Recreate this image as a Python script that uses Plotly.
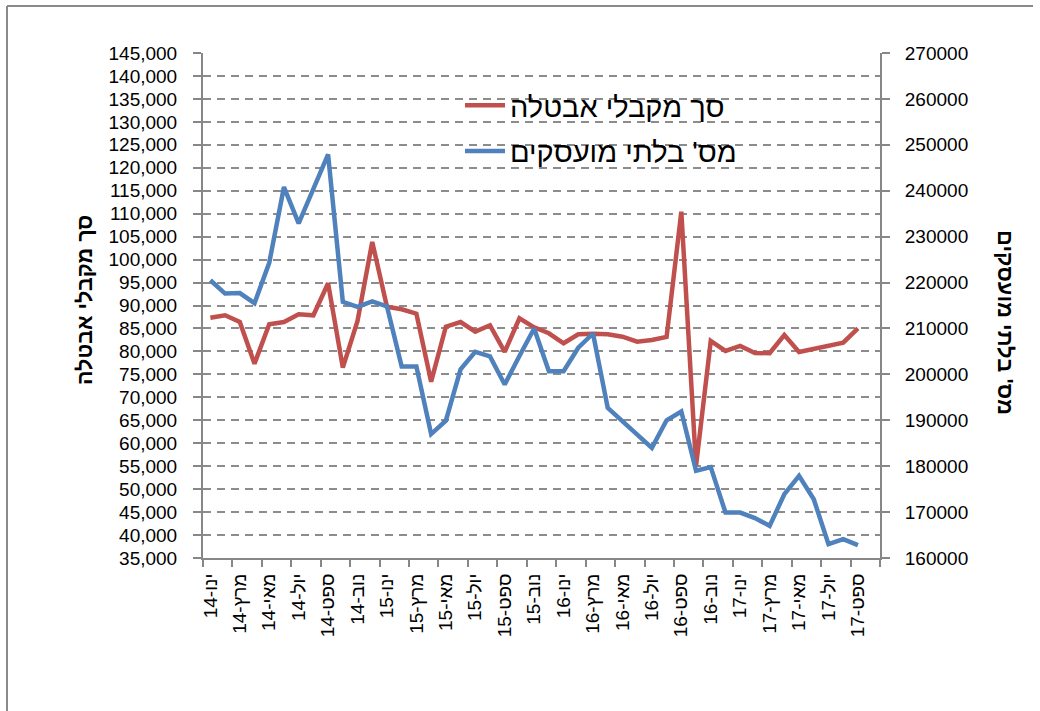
import plotly.graph_objects as go

# ---------------- data ----------------
month_names = ['ינו', 'פבר', 'מרץ', 'אפר', 'מאי', 'יונ', 'יול', 'אוג', 'ספט', 'אוק', 'נוב', 'דצמ']
years = ['14', '15', '16', '17']
n_months = 45  # Jan-2014 .. Sep-2017

month_labels = []
for y in years:
    for m in month_names:
        month_labels.append(f"{m}-{y}")
month_labels = month_labels[:n_months]

# total unemployment-benefit recipients (left axis)
benefit_recipients = [87350, 87870, 86410, 77330, 85910, 86400, 88090, 87870, 94840, 76460,
                      86630, 103840, 89740, 89180, 88220, 73410, 85390, 86400, 84300, 85690,
                      79880, 87220, 85250, 83950, 81770, 83730, 83860, 83730, 83210, 82120,
                      82490, 83140, 110430, 55050, 82270, 80100, 81180, 79660, 79600, 83580,
                      79880, 80600, 81400, 81900, 85040]

# number of unemployed (right axis)
unemployed = [220500, 217600, 217700, 215500, 224300, 240800, 232900, 240500, 247900, 215800,
              214700, 215900, 214800, 201700, 201700, 187000, 189900, 201100, 204900, 203900,
              197800, 204000, 210000, 200700, 200700, 205800, 208900, 192700, 189700, 186900,
              184000, 190000, 191900, 179000, 179800, 169900, 169900, 168700, 167000, 173900,
              177900, 172800, 163000, 164100, 162800]

series_names = ['סך מקבלי אבטלה', "מס' בלתי מועסקים"]
left_title = 'סך מקבלי אבטלה'
right_title = "מס' בלתי מועסקים"

x_idx = list(range(len(month_labels)))

FONT = "Liberation Sans, Arial, sans-serif"
GRAY = "#878787"

fig = go.Figure()
fig.add_trace(go.Scatter(x=x_idx, y=benefit_recipients, name=series_names[0], mode="lines",
                         line=dict(color="#C0504D", width=4.5), legendgroup="a", yaxis="y"))
fig.add_trace(go.Scatter(x=x_idx, y=unemployed, name=series_names[1], mode="lines",
                         line=dict(color="#4F81BD", width=4.5), legendgroup="b", yaxis="y2"))

L, R, T, B = 203, 160, 53, 153
W, H = 1040, 711
pw, ph = W - L - R, H - T - B


def px(xp):
    return (xp - L) / pw


def py(yp):
    return (H - B - yp) / ph


fig.update_layout(
    width=W, height=H,
    margin=dict(l=L, r=R, t=T, b=B, pad=0),
    paper_bgcolor="white", plot_bgcolor="white",
    font=dict(family=FONT, size=19, color="black"),
    showlegend=True,
    legend=dict(x=px(460), y=py(80), xanchor="left", yanchor="top",
                bgcolor="rgba(0,0,0,0)", font=dict(size=29, family=FONT),
                tracegroupgap=5, traceorder="grouped", itemwidth=40),
    xaxis=dict(
        range=[-0.5, 45.5], showgrid=False, zeroline=False,
        tickmode="array", tickvals=x_idx[::2], ticktext=month_labels[::2],
        tickangle=-90, ticks="outside", ticklen=6, tickcolor="rgba(0,0,0,0)",
        showline=True, linecolor=GRAY, linewidth=2,
        minor=dict(tickmode="array", tickvals=[-0.5 + 2 * k for k in range(24)],
                   ticks="outside", ticklen=7, tickcolor=GRAY, tickwidth=2, showgrid=False),
        tickfont=dict(size=19),
    ),
    yaxis=dict(
        range=[35000, 145000], dtick=5000, tick0=35000, tickformat=",",
        showgrid=True, gridcolor="#8c8c8c", gridwidth=1.8, griddash="8px,6px",
        zeroline=False, showline=True, linecolor=GRAY, linewidth=2,
        ticks="outside", ticklen=8, tickcolor=GRAY, tickwidth=2,
        ticklabelstandoff=12, tickfont=dict(size=19),
    ),
    yaxis2=dict(
        range=[160000, 270000], dtick=10000, tick0=160000, tickformat="d",
        overlaying="y", side="right", showgrid=False, zeroline=False,
        showline=True, linecolor=GRAY, linewidth=2,
        ticks="outside", ticklen=8, tickcolor=GRAY, tickwidth=2,
        ticklabelstandoff=11, tickfont=dict(size=19),
    ),
    annotations=[
        dict(text=f"<b>{left_title}</b>", x=px(85), y=py(300), xref="paper", yref="paper",
             textangle=-90, showarrow=False, font=dict(size=21.5, family=FONT),
             xanchor="center", yanchor="middle"),
        dict(text=f"<b>{right_title}</b>", x=px(1006), y=py(322), xref="paper", yref="paper",
             textangle=90, showarrow=False, font=dict(size=22, family=FONT),
             xanchor="center", yanchor="middle"),
    ],
    shapes=[
        dict(type="line", xref="paper", yref="paper", x0=px(7), x1=px(7), y0=py(720), y1=py(6),
             line=dict(color="#8a8a8a", width=2)),
        dict(type="line", xref="paper", yref="paper", x0=px(7), x1=px(1033), y0=py(6), y1=py(6),
             line=dict(color="#8a8a8a", width=2)),
    ],
)

fig.write_html("out.html", post_script="document.body.style.margin='0';",
               config={"displayModeBar": False})
